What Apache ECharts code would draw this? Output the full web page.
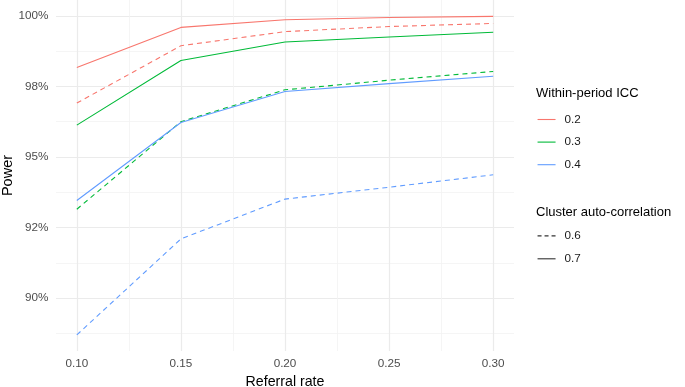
<!DOCTYPE html>
<html>
<head>
<meta charset="utf-8">
<script src="https://cdn.jsdelivr.net/npm/echarts@6/dist/echarts.min.js"></script>
<style>html,body{margin:0;padding:0;background:#fff}#c{width:685px;height:387px}</style>
</head>
<body>
<div id="c"></div>
<script>
// ---- data ----
const referralRates = [0.10, 0.15, 0.20, 0.25, 0.30];
const icc02_ac07 = [0.9817, 0.9959, 0.9986, 0.9994, 0.9998];
const icc02_ac06 = [0.9691, 0.9894, 0.9944, 0.9962, 0.9973];
const icc03_ac07 = [0.9613, 0.9842, 0.9907, 0.9925, 0.9942];
const icc03_ac06 = [0.9315, 0.9625, 0.9738, 0.9772, 0.9803];
const icc04_ac07 = [0.9346, 0.9622, 0.9732, 0.9760, 0.9786];
const icc04_ac06 = [0.8870, 0.9210, 0.9351, 0.9393, 0.9437];
const iccLevels = ['0.2', '0.3', '0.4'];
const acLevels = ['0.6', '0.7'];
const xTickValues = [0.10, 0.15, 0.20, 0.25, 0.30];
const xTickLabels = ['0.10', '0.15', '0.20', '0.25', '0.30'];
const xMinorValues = [0.125, 0.175, 0.225, 0.275];
const yTickValues = [0.900, 0.925, 0.950, 0.975, 1.000];
const yTickLabels = ['90%', '92%', '95%', '98%', '100%'];
const yMinorValues = [0.8875, 0.9125, 0.9375, 0.9625, 0.9875];

// ---- styles ----
const FONT = '"Liberation Sans", Arial, sans-serif';
const iccColors = ['#F8766D', '#00BA38', '#619CFF'];
const dashPattern = [5, 4];
const pairs = arr => referralRates.map((x, i) => [x, arr[i]]);

const lines = [
  { icc: 0, ac: 0, data: icc02_ac06 },
  { icc: 0, ac: 1, data: icc02_ac07 },
  { icc: 1, ac: 0, data: icc03_ac06 },
  { icc: 1, ac: 1, data: icc03_ac07 },
  { icc: 2, ac: 0, data: icc04_ac06 },
  { icc: 2, ac: 1, data: icc04_ac07 }
];

const series = lines.map(l => ({
  type: 'line',
  name: 'ICC ' + iccLevels[l.icc] + ' / AC ' + acLevels[l.ac],
  xAxisIndex: 0, yAxisIndex: 0,
  data: pairs(l.data),
  symbol: 'none',
  silent: true,
  lineStyle: { color: iccColors[l.icc], width: 1.1, type: l.ac === 0 ? dashPattern : 'solid' },
  itemStyle: { color: iccColors[l.icc] }
}));
// legend-only series
iccLevels.forEach((lv, i) => series.push({
  type: 'line', name: lv, data: [], symbol: 'none',
  lineStyle: { color: iccColors[i], width: 1.1 }, itemStyle: { color: iccColors[i] }
}));
acLevels.forEach((lv, i) => series.push({
  type: 'line', name: lv, data: [], symbol: 'none',
  lineStyle: { color: '#333333', width: 1.1, type: i === 0 ? [4, 3] : 'solid' }, itemStyle: { color: '#333333' }
}));

const xMin = 0.09, xMax = 0.31, yMin = 0.8813, yMax = 1.0056;

const option = {
  backgroundColor: '#ffffff',
  animation: false,
  grid: { left: 56, right: 171, top: 0, bottom: 36, containLabel: false, outerBoundsMode: 'none' },
  xAxis: [
    {
      type: 'value', min: xMin, max: xMax, position: 'bottom',
      axisLine: { show: false },
      axisTick: { show: false, customValues: xTickValues },
      axisLabel: {
        customValues: xTickValues, margin: 6.5, color: '#4D4D4D', fontSize: 11.7, fontFamily: FONT,
        formatter: v => xTickLabels[xTickValues.findIndex(t => Math.abs(t - v) < 1e-9)] ?? ''
      },
      splitLine: { show: true, lineStyle: { color: '#EBEBEB', width: 1.2 } },
      name: 'Referral rate', nameLocation: 'middle', nameGap: 24, nameMoveOverlap: false,
      nameTextStyle: { color: '#000', fontSize: 14.2, fontFamily: FONT }
    },
    {
      type: 'value', min: xMin, max: xMax, position: 'bottom', offset: 0,
      axisLine: { show: false },
      axisTick: { show: false, customValues: xMinorValues },
      axisLabel: { show: false, customValues: xMinorValues },
      splitLine: { show: true, lineStyle: { color: '#F2F2F2', width: 0.8 } }
    }
  ],
  yAxis: [
    {
      type: 'value', min: yMin, max: yMax, position: 'left',
      axisLine: { show: false },
      axisTick: { show: false, customValues: yTickValues },
      axisLabel: {
        customValues: yTickValues, margin: 7.5, color: '#4D4D4D', fontSize: 11.7, fontFamily: FONT,
        formatter: v => yTickLabels[yTickValues.findIndex(t => Math.abs(t - v) < 1e-9)] ?? ''
      },
      splitLine: { show: true, lineStyle: { color: '#EBEBEB', width: 1.2 } },
      name: 'Power', nameLocation: 'middle', nameGap: 41, nameRotate: 90, nameMoveOverlap: false,
      nameTextStyle: { color: '#000', fontSize: 14.5, fontFamily: FONT }
    },
    {
      type: 'value', min: yMin, max: yMax, position: 'left', offset: 0,
      axisLine: { show: false },
      axisTick: { show: false, customValues: yMinorValues },
      axisLabel: { show: false, customValues: yMinorValues },
      splitLine: { show: true, lineStyle: { color: '#F2F2F2', width: 0.8 } }
    }
  ],
  legend: [
    {
      data: iccLevels, orient: 'vertical', left: 537, top: 113.5, padding: 0,
      itemWidth: 18, itemHeight: 14, itemGap: 10.6, selectedMode: false,
      itemStyle: { opacity: 0 },
      lineStyle: { width: 1.1 },
      textStyle: { color: '#1A1A1A', fontSize: 11.7, fontFamily: FONT, padding: [0, 0, 0, 4] }
    },
    {
      data: acLevels, orient: 'vertical', left: 537, top: 229.9, padding: 0,
      itemWidth: 18, itemHeight: 14, itemGap: 10.9, selectedMode: false,
      itemStyle: { opacity: 0 },
      lineStyle: { width: 1.1 },
      textStyle: { color: '#1A1A1A', fontSize: 11.7, fontFamily: FONT, padding: [0, 0, 0, 4] }
    }
  ],
  graphic: [
    { type: 'text', x: 536, y: 93, style: { text: 'Within-period ICC', fill: '#000', font: '13px ' + FONT, verticalAlign: 'middle' } },
    { type: 'text', x: 536, y: 212, style: { text: 'Cluster auto-correlation', fill: '#000', font: '13px ' + FONT, verticalAlign: 'middle' } }
  ],
  series: series
};

const chart = echarts.init(document.getElementById('c'), null, { renderer: 'canvas' });
chart.setOption(option);
</script>
</body>
</html>
